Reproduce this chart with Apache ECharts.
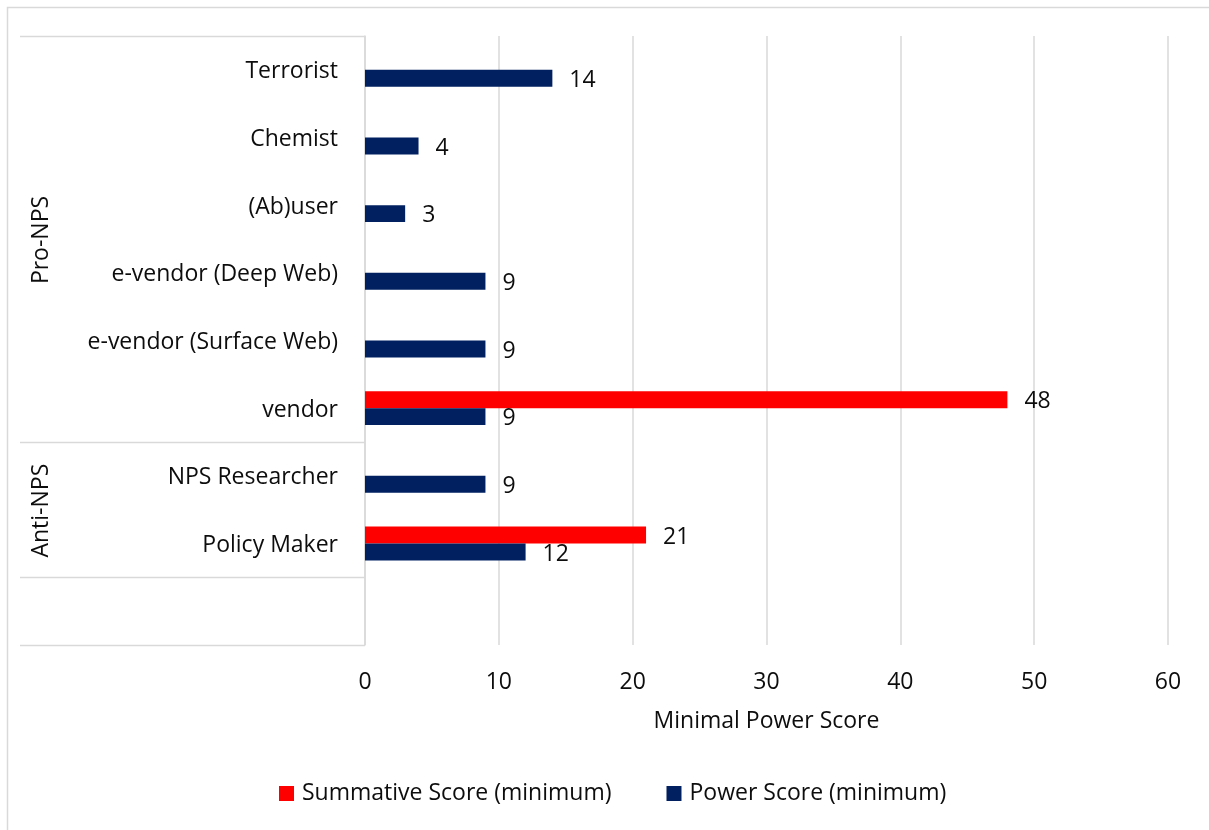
<!DOCTYPE html>
<html>
<head>
<meta charset="utf-8">
<script src="https://cdn.jsdelivr.net/npm/echarts@6/dist/echarts.min.js"></script>
<style>
html,body{margin:0;padding:0;background:#fff;}
#chart{width:1209px;height:830px;}
</style>
</head>
<body>
<div id="chart"></div>
<script>
const categories = ['Terrorist', 'Chemist', '(Ab)user', 'e-vendor (Deep Web)', 'e-vendor (Surface Web)', 'vendor', 'NPS Researcher', 'Policy Maker', ''];
const groupNames = ['Pro-NPS', 'Anti-NPS'];
const groupStart = [0, 6];
const groupEnd = [5, 7];
const summativeScore = [null, null, null, null, null, 48, null, 21, null];
const powerScore = [14, 4, 3, 9, 9, 9, 9, 12, null];
const seriesNames = ['Summative Score (minimum)', 'Power Score (minimum)'];
const axisTitle = 'Minimal Power Score';
const xMin = 0, xMax = 60, xStep = 10;

const FONT = '"Open Sans", sans-serif';
const TEXT = '#0d0d0d';
const GRID = '#d9d9d9';

const chart = echarts.init(document.getElementById('chart'), null, {renderer: 'canvas'});

const labelCfg = {show: true, position: 'right', distance: 17, offset: [0, 2],
  fontFamily: FONT, fontSize: 23, color: TEXT};

const option = {
  animation: false,
  backgroundColor: '#fff',
  textStyle: {fontFamily: FONT},
  grid: {left: 365, right: 41, top: 36, bottom: 185, containLabel: false},
  legend: {
    data: seriesNames,
    left: 279, top: 782, padding: 0,
    icon: 'rect', itemWidth: 15, itemHeight: 15, itemGap: 55,
    textStyle: {fontFamily: FONT, fontSize: 23, color: TEXT, padding: [3, 0, 0, 3]},
    selectedMode: false
  },
  xAxis: {
    type: 'value', min: xMin, max: xMax, interval: xStep,
    name: axisTitle, nameLocation: 'middle', nameGap: 65,
    nameTextStyle: {fontFamily: FONT, fontSize: 23, color: TEXT},
    axisLine: {show: false}, axisTick: {show: false},
    axisLabel: {fontFamily: FONT, fontSize: 23, color: TEXT, margin: 26},
    splitLine: {show: true, lineStyle: {color: GRID, width: 1.5}}
  },
  yAxis: {
    type: 'category', data: categories, inverse: true,
    axisLine: {show: true, lineStyle: {color: GRID, width: 1.5}},
    axisTick: {show: false},
    axisLabel: {
      fontFamily: FONT, fontSize: 23, color: TEXT, margin: 27,
      formatter: v => '{c|' + v + '}',
      rich: {c: {fontFamily: FONT, fontSize: 23, color: TEXT, padding: [4, 0, 0, 0]}}
    },
    splitLine: {show: false}
  },
  series: [
    {
      name: seriesNames[0], type: 'bar', data: summativeScore,
      barGap: '0%', barCategoryGap: '50%',
      itemStyle: {color: '#FF0000'},
      label: labelCfg
    },
    {
      name: seriesNames[1], type: 'bar', data: powerScore,
      barGap: '0%', barCategoryGap: '50%',
      itemStyle: {color: '#002060'},
      label: labelCfg
    }
  ]
};
chart.setOption(option);

function addDecor() {
  const c0 = chart.convertToPixel({yAxisIndex: 0}, 0);
  const c1 = chart.convertToPixel({yAxisIndex: 0}, 1);
  const band = c1 - c0;
  const edgeTop = i => c0 + (i - 0.5) * band;
  const axisX = chart.convertToPixel({xAxisIndex: 0}, xMin);
  const lineLeft = 20;
  const elements = [];
  // outer chart border
  elements.push({type: 'rect', shape: {x: 7.5, y: 7.5, width: 1400, height: 1000},
    style: {fill: null, stroke: GRID, lineWidth: 1.5}, silent: true, z: 0});
  const bounds = new Set([0]);
  groupEnd.forEach(e => bounds.add(e + 1));
  bounds.add(categories.length);
  bounds.forEach(b => {
    const y = Math.round(edgeTop(b)) + 0.5;
    elements.push({type: 'line', shape: {x1: lineLeft, y1: y, x2: axisX, y2: y},
      style: {stroke: GRID, lineWidth: 1.5}, silent: true});
  });
  groupNames.forEach((g, i) => {
    const yc = (edgeTop(groupStart[i]) + edgeTop(groupEnd[i] + 1)) / 2;
    elements.push({type: 'text', x: 41, y: yc + 1, rotation: Math.PI / 2,
      style: {text: g, fontFamily: FONT, fontSize: 23, fill: TEXT, align: 'center', verticalAlign: 'middle'},
      silent: true});
  });
  chart.setOption({graphic: {elements: elements}});
}
addDecor();
</script>
</body>
</html>
